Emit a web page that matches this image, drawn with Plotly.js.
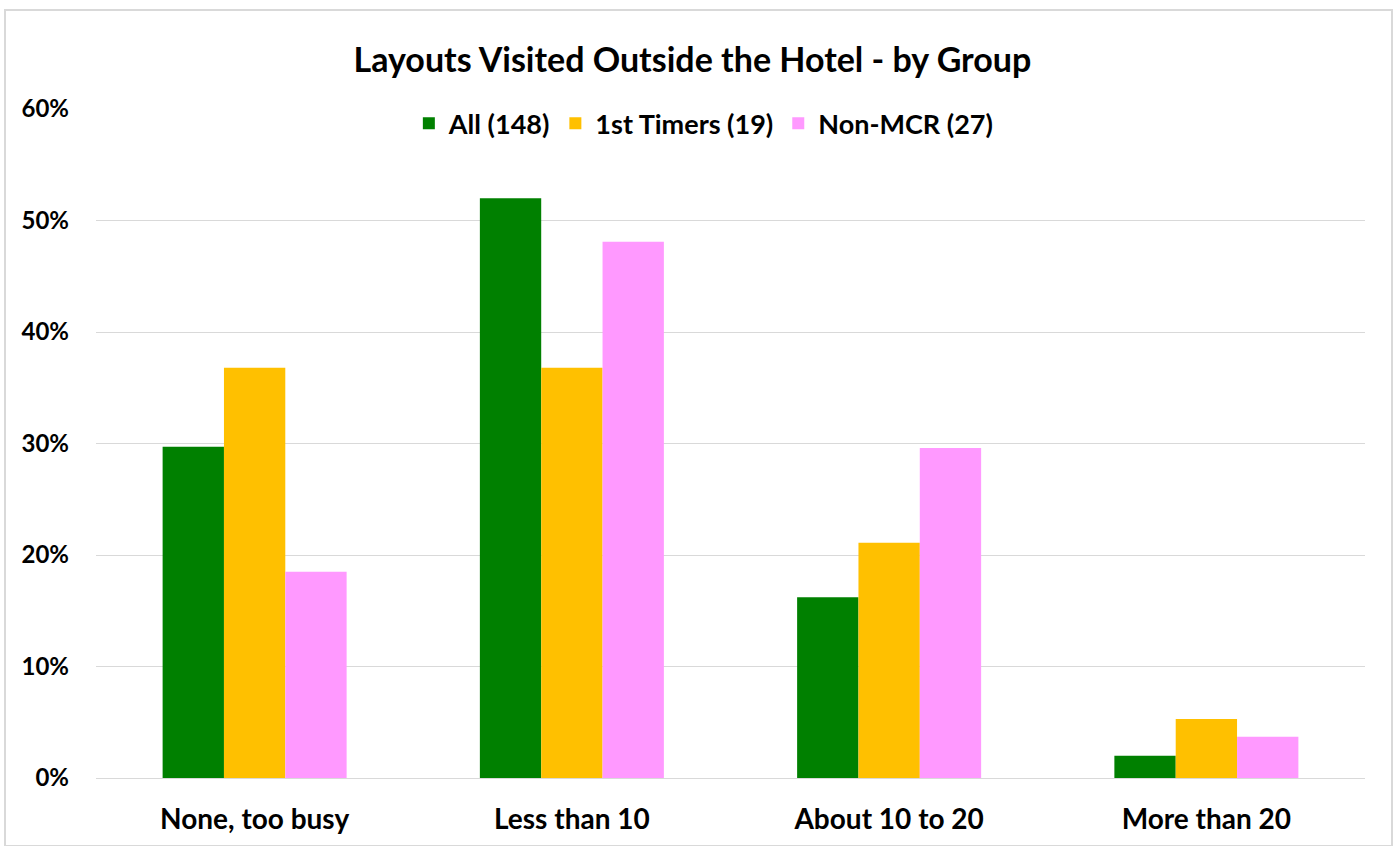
<!DOCTYPE html>
<html>
<head>
<meta charset="utf-8">
<script src="https://cdn.plot.ly/plotly-3.0.1.min.js"></script>
<style>
html,body{margin:0;padding:0;background:#fff;}
#chart{width:1396px;height:846px;}
</style>
</head>
<body>
<div id="chart"></div>
<script>
const categories = ["None, too busy", "Less than 10", "About 10 to 20", "More than 20"];
const allValues = [0.297, 0.520, 0.162, 0.020];
const firstTimers = [0.368, 0.368, 0.211, 0.053];
const nonMCR = [0.185, 0.481, 0.296, 0.037];
const seriesNames = ["All (148)", "1st Timers (19)", "Non-MCR (27)"];
const seriesColors = ["#008000", "#FFC000", "#FF99FF"];
const yTicks = [0, 0.1, 0.2, 0.3, 0.4, 0.5, 0.6];
const yTickLabels = ["0%", "10%", "20%", "30%", "40%", "50%", "60%"];

const fontFam = "Lato, 'Open Sans', sans-serif";
const data = [allValues, firstTimers, nonMCR].map((vals, i) => ({
  type: "bar",
  x: categories,
  y: vals,
  name: seriesNames[i],
  marker: {color: seriesColors[i], line: {width: 0}},
  hoverinfo: "x+y+name"
}));

const layout = {
  width: 1396,
  height: 846,
  paper_bgcolor: "#ffffff",
  plot_bgcolor: "#ffffff",
  margin: {l: 96, r: 31, t: 109, b: 68},
  barmode: "group",
  bargap: 0.42,
  bargroupgap: 0,
  font: {family: fontFam, color: "#000000"},
  title: {
    text: "<b>Layouts Visited Outside the Hotel - by Group</b>",
    font: {family: fontFam, size: 34, color: "#000000"},
    x: 0.496, xanchor: "center",
    y: 0.929, yanchor: "middle"
  },
  legend: {
    orientation: "h",
    x: 0.479, xanchor: "center",
    y: 0.978, yanchor: "middle",
    font: {family: fontFam, size: 27, color: "#000000", weight: "bold"},
    traceorder: "normal",
    itemwidth: 30,
    bgcolor: "rgba(0,0,0,0)"
  },
  xaxis: {
    type: "category",
    tickfont: {family: fontFam, size: 28, color: "#000000", weight: "bold"},
    showgrid: false,
    showline: true,
    linecolor: "#d9d9d9",
    linewidth: 1,
    ticks: "",
    ticklabelstandoff: 16,
    fixedrange: true
  },
  yaxis: {
    range: [0, 0.6],
    tickvals: yTicks,
    ticktext: yTickLabels,
    tickfont: {family: fontFam, size: 24, color: "#000000", weight: "bold"},
    showgrid: true,
    gridcolor: "#d9d9d9",
    gridwidth: 1,
    zeroline: false,
    showline: false,
    ticks: "",
    ticklabelstandoff: 26,
    fixedrange: true
  },
  shapes: [{
    type: "rect", xref: "paper", yref: "paper",
    x0: (5 - 96) / 1269, x1: (1392 - 96) / 1269,
    y0: -68 / 669, y1: (846 - 10 - 68) / 669,
    line: {color: "#d9d9d9", width: 2},
    fillcolor: "rgba(0,0,0,0)",
    layer: "below"
  }],
  showlegend: true
};

Plotly.newPlot("chart", data, layout, {displayModeBar: false});
</script>
</body>
</html>
